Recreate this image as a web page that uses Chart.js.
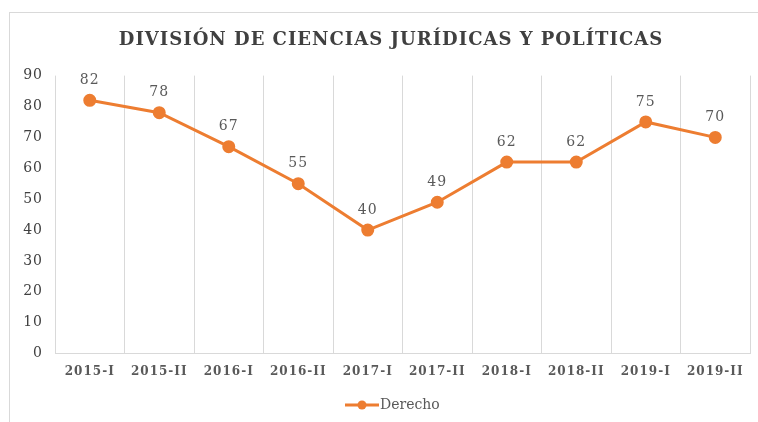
<html>
<head>
<title>Derecho</title>
<style>
  body { margin: 0; background: #fff; }
  #box { position: absolute; left: 9px; top: 12px; width: 749px; height: 410px; border: 1px solid #d9d9d9; border-bottom: none; border-right: none; box-sizing: border-box; }
</style>
</head>
<body>
<div id="box"><canvas id="myChart"></canvas></div>

<script src="https://cdn.jsdelivr.net/npm/chart.js"></script>
<script>
  var periodos = ['2015-I', '2015-II', '2016-I', '2016-II', '2017-I', '2017-II', '2018-I', '2018-II', '2019-I', '2019-II'];
  var derecho = [82, 78, 67, 55, 40, 49, 62, 62, 75, 70];
  var yTicks = [0, 10, 20, 30, 40, 50, 60, 70, 80, 90];

  var naranja = '#ED7D31';
  var gris = '#595959';
  var serif = "'DejaVu Serif', 'Liberation Serif', serif";

  // letter spacing like the original
  const spacing = {
    id: 'spacing',
    beforeLayout(chart) { chart.ctx.letterSpacing = '1px'; },
    beforeDraw(chart) { chart.ctx.letterSpacing = '1px'; }
  };

  // value labels over each point
  const valores = {
    id: 'valores',
    afterDatasetsDraw(chart) {
      const ctx = chart.ctx;
      const meta = chart.getDatasetMeta(0);
      ctx.save();
      ctx.font = '14px ' + serif;
      ctx.fillStyle = gris;
      ctx.textAlign = 'center';
      ctx.textBaseline = 'bottom';
      meta.data.forEach(function(p, i) {
        ctx.fillText(derecho[i], p.x, p.y - 13);
      });
      ctx.restore();
    }
  };

  // excel-like legend: line with marker and the series name
  const leyenda = {
    id: 'leyenda',
    afterDraw(chart) {
      const ctx = chart.ctx;
      const cx = 372;
      const y = chart.height - 17;
      ctx.save();
      ctx.strokeStyle = naranja;
      ctx.lineWidth = 3;
      ctx.beginPath();
      ctx.moveTo(cx - 37, y);
      ctx.lineTo(cx - 3, y);
      ctx.stroke();
      ctx.fillStyle = naranja;
      ctx.beginPath();
      ctx.arc(cx - 20, y, 4.5, 0, Math.PI * 2);
      ctx.fill();
      ctx.font = '14px ' + serif;
      ctx.letterSpacing = '0px';
      ctx.fillStyle = gris;
      ctx.textBaseline = 'middle';
      ctx.fillText(chart.data.datasets[0].label, cx - 2, y);
      ctx.restore();
    }
  };

  const ctx = document.getElementById('myChart').getContext('2d');
  const myChart = new Chart(ctx, {
    type: 'line',
    data: {
      labels: periodos,
      datasets: [{
        label: 'Derecho',
        data: derecho,
        borderColor: naranja,
        backgroundColor: naranja,
        borderWidth: 3,
        pointRadius: 5,
        pointHoverRadius: 5,
        tension: 0
      }]
    },
    plugins: [spacing, valores, leyenda],
    options: {
      responsive: true,
      maintainAspectRatio: false,
      animation: false,
      layout: { padding: { left: 11, right: -3, top: 17, bottom: 32 } },
      plugins: {
        legend: { display: false },
        tooltip: { enabled: false },
        title: {
          display: true,
          text: 'DIVISIÓN DE CIENCIAS JURÍDICAS Y POLÍTICAS',
          color: '#404040',
          font: { family: serif, size: 18, weight: 'bold' },
          padding: { top: 0, bottom: 24 }
        }
      },
      scales: {
        x: {
          offset: true,
          afterFit(scale) { scale.paddingLeft = 0; scale.paddingRight = 0; },
          grid: { offset: true, color: '#d9d9d9', drawTicks: false },
          border: { color: '#d9d9d9' },
          ticks: { color: gris, padding: 11, font: { family: serif, size: 12, weight: 'bold' }, maxRotation: 0 }
        },
        y: {
          min: 0,
          max: 90,
          afterBuildTicks(scale) { scale.ticks = yTicks.map(function(v) { return { value: v }; }); },
          afterFit(scale) { scale.width = 34; },
          grid: { display: false, drawTicks: false },
          border: { display: false },
          ticks: { color: '#404040', padding: 12, font: { family: serif, size: 14 } }
        }
      }
    }
  });
</script>
</body>
</html>
